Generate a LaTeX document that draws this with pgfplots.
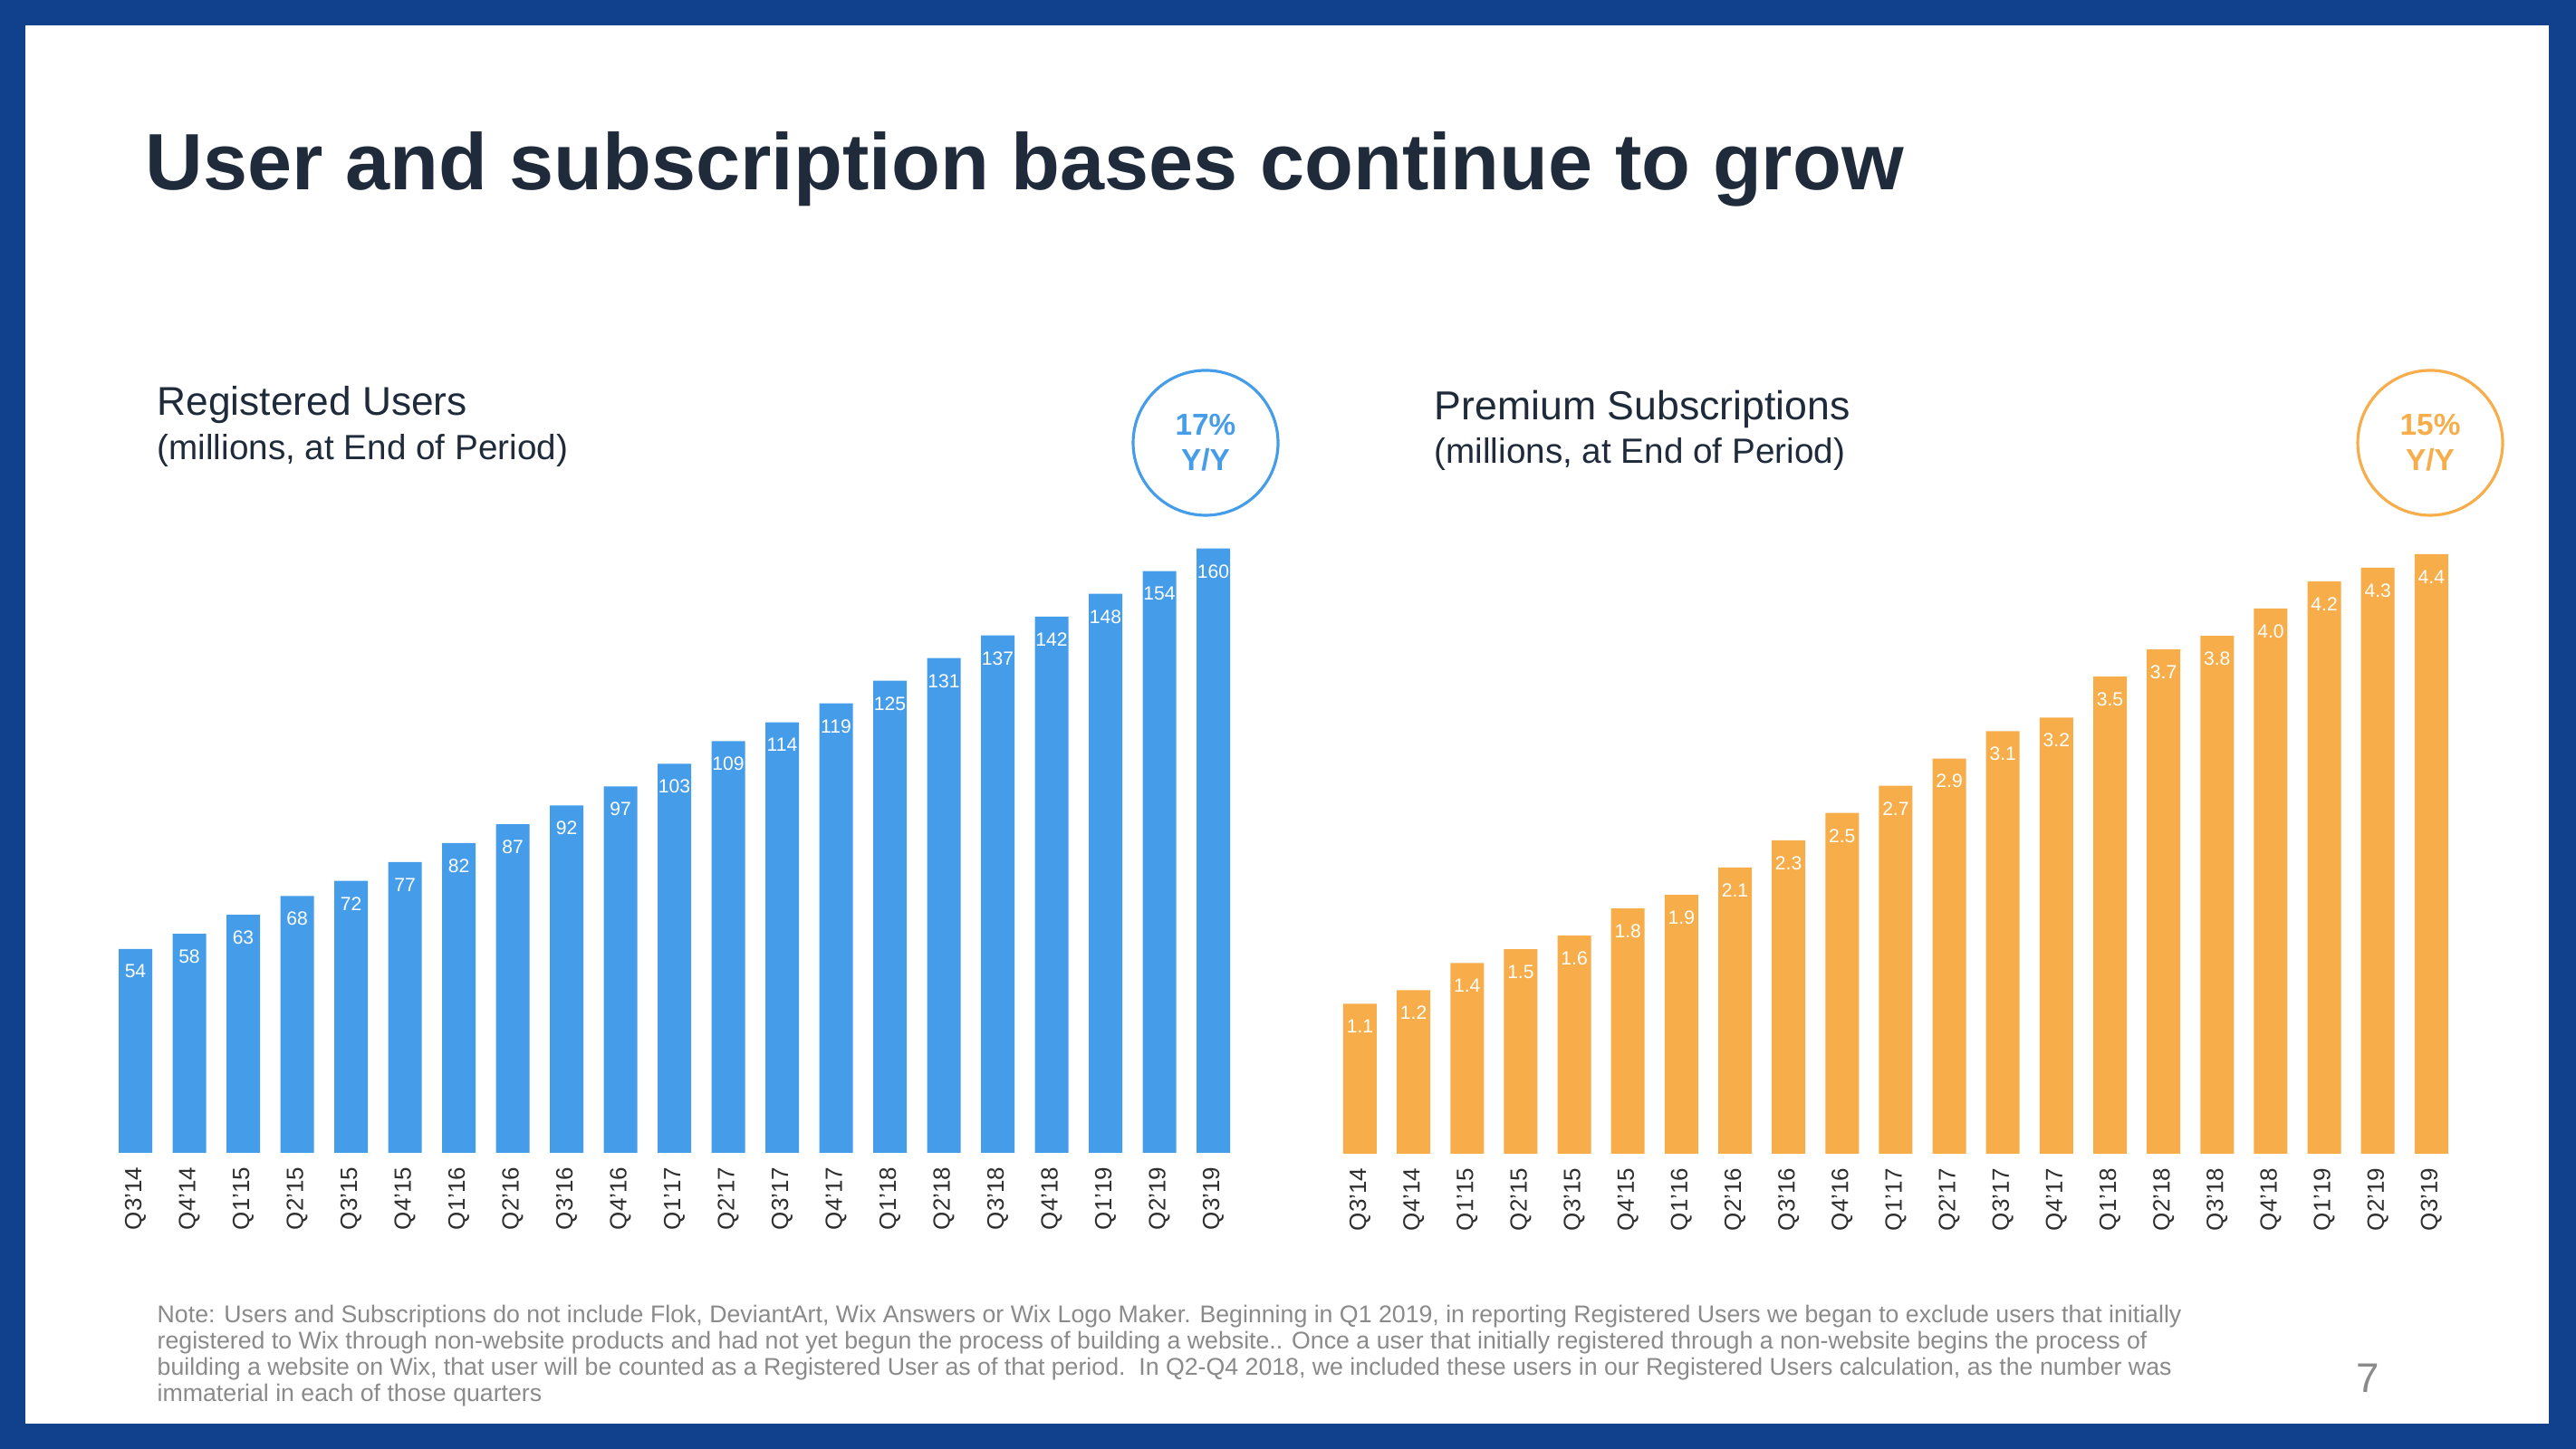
\documentclass[border=0pt]{standalone}
\usepackage{fontspec}
\setmainfont{Liberation Sans}
\usepackage{pgfplots}
\pgfplotsset{compat=1.18}
\usepackage{xcolor}

\definecolor{frameblue}{HTML}{11408C}
\definecolor{barblue}{HTML}{459DEA}
\definecolor{barorange}{HTML}{F6AD4A}
\definecolor{titledark}{HTML}{1F2B3A}
\definecolor{ticktext}{HTML}{2E2E2E}
\definecolor{notegray}{HTML}{8A8A8A}

\pgfplotsset{
  slidebars/.style={
    scale only axis,
    ybar,
    bar width=0.37cm,
    xmin=-0.5, xmax=20.5, ymin=0,
    enlargelimits=false,
    hide y axis,
    axis x line*=bottom,
    x axis line style={draw=none},
    xtick=data,
    xtick style={draw=none},
    major tick length=0pt,
    xticklabels={Q3'14,Q4'14,Q1'15,Q2'15,Q3'15,Q4'15,Q1'16,Q2'16,Q3'16,Q4'16,Q1'17,Q2'17,Q3'17,Q4'17,Q1'18,Q2'18,Q3'18,Q4'18,Q1'19,Q2'19,Q3'19},
    xticklabel style={rotate=90, anchor=east, inner sep=0pt, font=\fontsize{7.4}{8}\selectfont, text=ticktext},
    xticklabel shift=0.15cm,
    /pgf/number format/assume math mode=true,
    nodes near coords,
    nodes near coords style={anchor=north, inner sep=0pt, yshift=-0.17cm, text=white, font=\fontsize{6}{7}\selectfont},
    clip=false,
  }
}

\begin{document}
\begin{tikzpicture}
% slide frame
\fill[frameblue] (0,0) rectangle (28.44,16);
\fill[white] (0.28,0.28) rectangle (28.14,15.72);

% title
\node[anchor=base west, inner sep=0pt, text=titledark, font=\fontsize{25.1}{30}\selectfont\bfseries] at (1.60,13.90) {User and subscription bases continue to grow};

% left chart headings
\node[anchor=base west, inner sep=0pt, text=titledark, font=\fontsize{12.6}{14}\selectfont] at (1.73,11.41) {Registered Users};
\node[anchor=base west, inner sep=0pt, text=titledark, font=\fontsize{11.0}{13}\selectfont] at (1.73,10.92) {(millions, at End of Period)};
\draw[barblue, line width=0.9pt] (13.31,11.11) circle (0.80);
\node[anchor=base, inner sep=0pt, text=barblue, font=\fontsize{9.5}{11}\selectfont\bfseries] at (13.31,11.19) {17\%};
\node[anchor=base, inner sep=0pt, text=barblue, font=\fontsize{9.5}{11}\selectfont\bfseries] at (13.31,10.80) {Y/Y};

% right chart headings
\node[anchor=base west, inner sep=0pt, text=titledark, font=\fontsize{12.7}{14}\selectfont] at (15.83,11.36) {Premium Subscriptions};
\node[anchor=base west, inner sep=0pt, text=titledark, font=\fontsize{11.0}{13}\selectfont] at (15.83,10.88) {(millions, at End of Period)};
\draw[barorange, line width=0.9pt] (26.83,11.11) circle (0.80);
\node[anchor=base, inner sep=0pt, text=barorange, font=\fontsize{9.5}{11}\selectfont\bfseries] at (26.83,11.19) {15\%};
\node[anchor=base, inner sep=0pt, text=barorange, font=\fontsize{9.5}{11}\selectfont\bfseries] at (26.83,10.80) {Y/Y};

% registered users
\begin{axis}[slidebars,
  at={(1.1975cm,3.27cm)}, anchor=south west,
  width=12.495cm, height=7.09cm, ymax=170,
]
\addplot[fill=barblue, draw=none] coordinates {
(0,54) (1,58) (2,63) (3,68) (4,72) (5,77) (6,82) (7,87) (8,92) (9,97)
(10,103) (11,109) (12,114) (13,119) (14,125) (15,131) (16,137) (17,142)
(18,148) (19,154) (20,160)
};
\end{axis}

% premium subscriptions
\begin{axis}[slidebars,
  at={(14.719cm,3.26cm)}, anchor=south west,
  width=12.42cm, height=7.0735cm, ymax=4.7,
  nodes near coords={\pgfmathprintnumber[fixed, fixed zerofill, precision=1]{\pgfplotspointmeta}},
]
\addplot[fill=barorange, draw=none] coordinates {
(0,1.1) (1,1.2) (2,1.4) (3,1.5) (4,1.6) (5,1.8) (6,1.9) (7,2.1) (8,2.3) (9,2.5)
(10,2.7) (11,2.9) (12,3.1) (13,3.2) (14,3.5) (15,3.7) (16,3.8) (17,4.0)
(18,4.2) (19,4.3) (20,4.4)
};
\end{axis}

% footnote
\begin{scope}[every node/.style={anchor=base west, inner sep=0pt, text=notegray, font=\fontsize{7.6}{8}\selectfont}]
\node at (1.73,1.39) {Note: Users and Subscriptions do not include Flok, DeviantArt, Wix Answers or Wix Logo Maker. Beginning in Q1 2019, in reporting Registered Users we began to exclude users that initially};
\node at (1.73,1.10) {registered to Wix through non-website products and had not yet begun the process of building a website.. Once a user that initially registered through a non-website begins the process of};
\node at (1.73,0.81) {building a website on Wix, that user will be counted as a Registered User as of that period.\ \ In Q2-Q4 2018, we included these users in our Registered Users calculation, as the number was};
\node at (1.73,0.52) {immaterial in each of those quarters};
\end{scope}
\node[anchor=base, inner sep=0pt, text=notegray, font=\fontsize{13}{15}\selectfont] at (26.14,0.62) {7};
\end{tikzpicture}
\end{document}
